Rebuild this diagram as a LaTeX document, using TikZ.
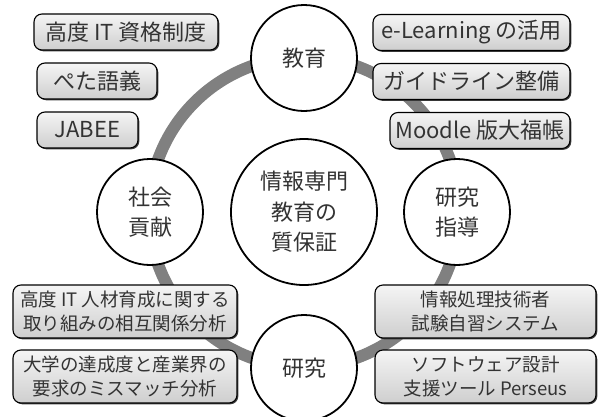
\documentclass[tikz,border=0pt]{standalone}
\usepackage{fontspec}
\setmainfont{Noto Sans CJK JP}
\usetikzlibrary{shadows}
\definecolor{ringgray}{HTML}{808080}
\definecolor{txt}{HTML}{333333}
\tikzset{
  ring/.style={draw=ringgray, line width=12pt},
  bubble/.style={circle, draw=black, line width=1.8pt, fill=white, inner sep=0pt,
    text=txt, align=center, font=\fontsize{22}{30.5}\selectfont},
  sat/.style={bubble, minimum size=106pt},
  core/.style={bubble, minimum size=146pt},
  box/.style={rounded corners=8pt, draw=black, line width=1.1pt, inner sep=0pt,
    top color=gray!8, bottom color=gray!38, text=txt, align=center,
    drop shadow={shadow xshift=1.3pt, shadow yshift=-1.3pt, fill=black!75, opacity=1}},
  bigbox/.style={box, minimum height=36pt, font=\fontsize{22}{26}\selectfont},
  twobox/.style={box, minimum height=53pt, font=\fontsize{18.5}{24}\selectfont},
}
\begin{document}
\begin{tikzpicture}[x=1pt,y=-1pt]
\useasboundingbox (0,0) rectangle (598,416);
\coordinate (ctr) at (304,212);
\draw[ring] (ctr) circle[radius=155];
\node[core] (core) at (ctr) {情報専門\\教育の\\質保証};
\node[sat] (edu) at (304,58) {教育};
\node[sat] (soc) at (150,212) {社会\\貢献};
\node[sat] (guid) at (457,212) {研究\\指導};
\node[sat] (res) at (304,368) {研究};
\node[bigbox, minimum width=184pt] (b1) at (126,32) {高度 IT 資格制度};
\node[bigbox, minimum width=120pt] (b2) at (97,81) {ぺた語義};
\node[bigbox, minimum width=101pt] (b3) at (87.5,130) {JABEE};
\node[bigbox, minimum width=197pt] (b4) at (471.5,32.5) {e-Learning の活用};
\node[bigbox, minimum width=197pt] (b5) at (471.5,81.5) {ガイドライン整備};
\node[bigbox, minimum width=180pt] (b6) at (480,130.5) {Moodle 版大福帳};
\node[twobox, minimum width=224pt] (b7) at (125,311.5) {高度 IT 人材育成に関する\\取り組みの相互関係分析};
\node[twobox, minimum width=224pt] (b8) at (125,376.5) {大学の達成度と産業界の\\要求のミスマッチ分析};
\node[twobox, minimum width=221pt] (b9) at (485.5,311.5) {情報処理技術者\\試験自習システム};
\node[twobox, minimum width=221pt] (b10) at (485.5,376.5) {ソフトウェア設計\\支援ツール Perseus};
\end{tikzpicture}
\end{document}
